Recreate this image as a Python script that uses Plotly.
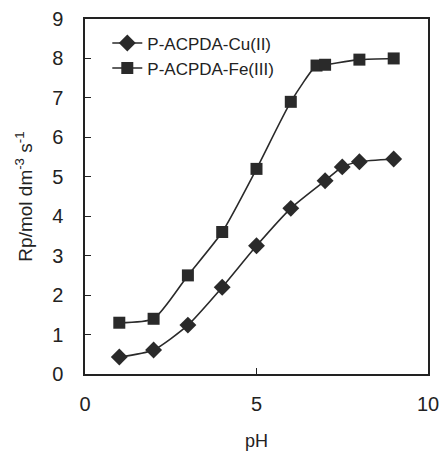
import plotly.graph_objects as go

ph_cu = [1, 2, 3, 4, 5, 6, 7, 7.5, 8, 9]
rp_cu = [0.43, 0.61, 1.24, 2.2, 3.25, 4.2, 4.9, 5.25, 5.38, 5.45]
ph_fe = [1, 2, 3, 4, 5, 6, 6.75, 7, 8, 9]
rp_fe = [1.3, 1.4, 2.5, 3.6, 5.2, 6.9, 7.82, 7.84, 7.97, 8.0]

name_cu = "P-ACPDA-Cu(II)"
name_fe = "P-ACPDA-Fe(III)"

col = "#2a2a2a"
fig = go.Figure()
fig.add_trace(go.Scatter(x=ph_cu, y=rp_cu, name=name_cu, mode="lines+markers",
                         line=dict(color=col, width=1.6, shape="spline", smoothing=0.6),
                         marker=dict(symbol="diamond", size=13, color=col)))
fig.add_trace(go.Scatter(x=ph_fe, y=rp_fe, name=name_fe, mode="lines+markers",
                         line=dict(color=col, width=1.6, shape="spline", smoothing=0.6),
                         marker=dict(symbol="square", size=12, color=col)))

font = "Liberation Sans, Arial, sans-serif"
fig.update_layout(
    width=440, height=454,
    margin=dict(l=85, r=12, t=19, b=80),
    paper_bgcolor="white", plot_bgcolor="white",
    font=dict(family=font, color="#222"),
    showlegend=True,
    legend=dict(x=0.065, y=0.982, xanchor="left", yanchor="top",
                font=dict(size=17, family=font, color="#222"),
                bgcolor="rgba(0,0,0,0)", tracegroupgap=0, itemwidth=30),
    xaxis=dict(range=[0, 10], dtick=5, tick0=0, ticks="inside", ticklen=6,
               tickcolor="#222", showline=True, linecolor="#222", linewidth=1.5,
               mirror=True, showgrid=False, zeroline=False, automargin=False,
               tickfont=dict(size=20), ticklabelstandoff=11,
               title=dict(text="pH", font=dict(size=18), standoff=21)),
    yaxis=dict(range=[0, 9], dtick=1, ticks="inside", ticklen=6,
               tickcolor="#222", showline=True, linecolor="#222", linewidth=1.5,
               mirror=True, showgrid=False, zeroline=False, automargin=False,
               tickfont=dict(size=20), ticklabelstandoff=16,
               title=dict(text="Rp/mol dm<sup>-3</sup> s<sup>-1</sup>", font=dict(size=19), standoff=14)),
)
fig.write_html("out.html", post_script="document.body.style.margin='0';",
               config={"displayModeBar": False})
